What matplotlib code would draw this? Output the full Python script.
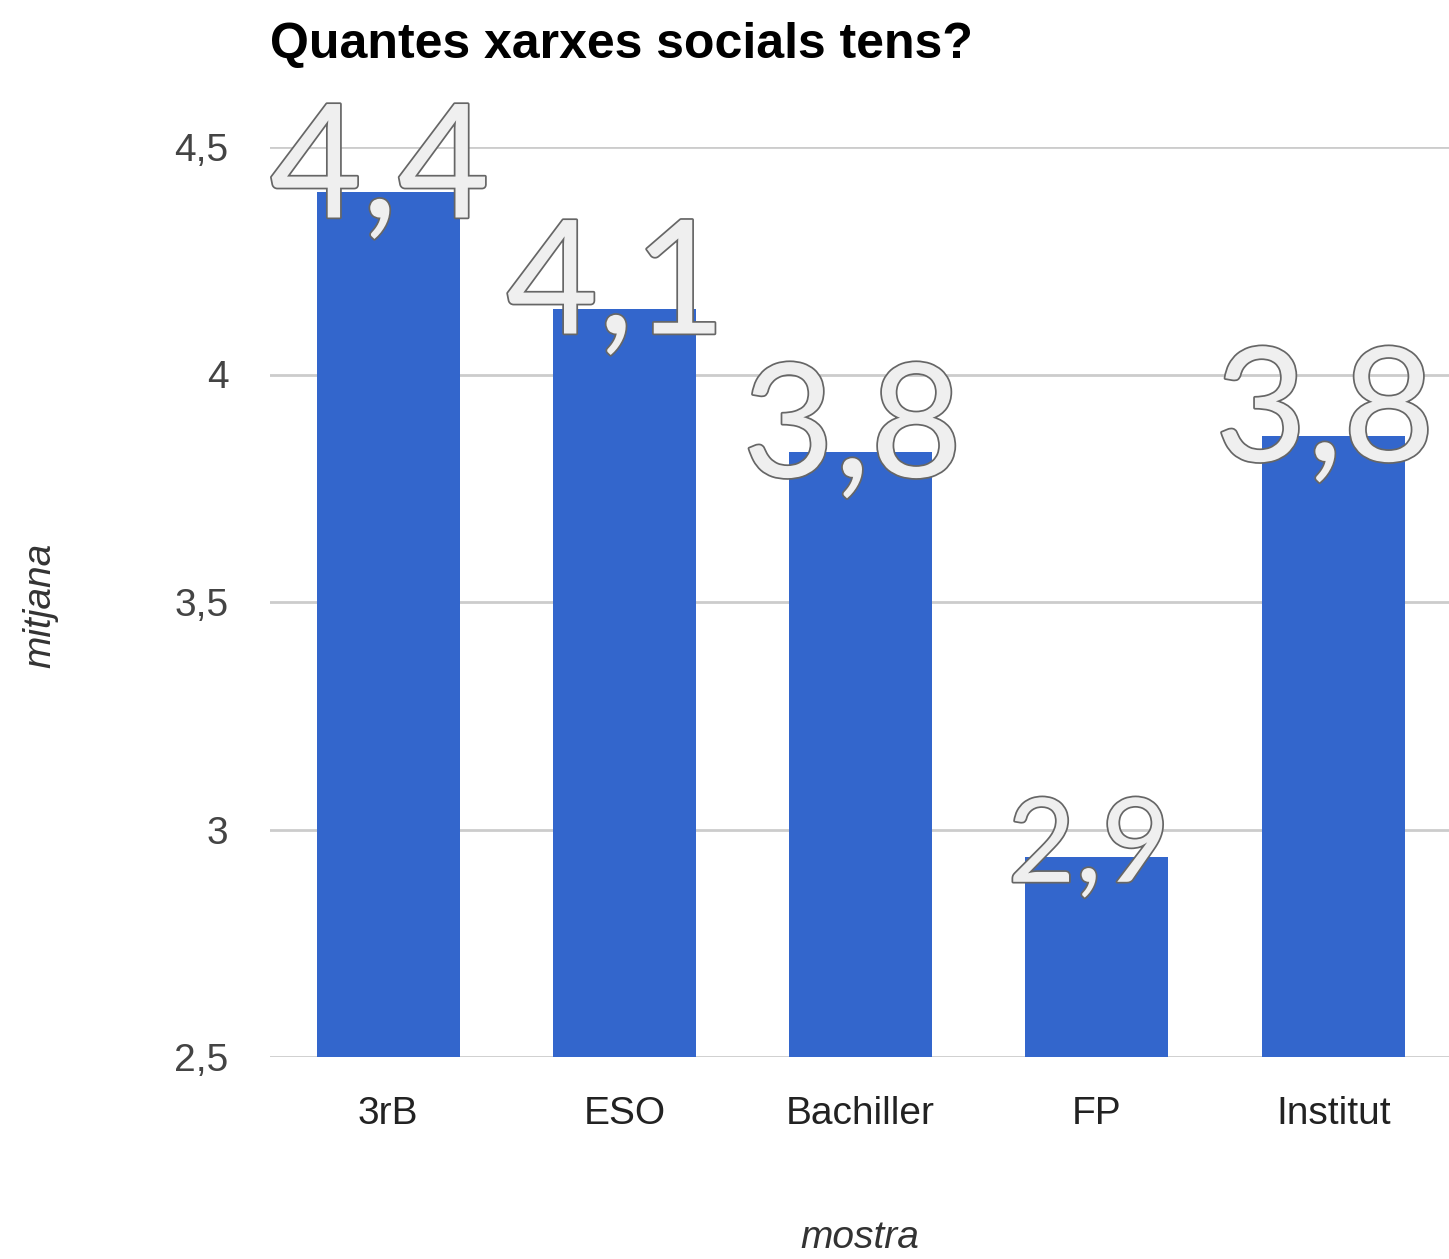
import matplotlib
matplotlib.use('Agg')

import matplotlib.pyplot as plt
import matplotlib.patheffects as pe

categories = ['3rB', 'ESO', 'Bachiller', 'FP', 'Institut']
values = [4.40, 4.145, 3.83, 2.94, 3.865]
value_labels = ['4,4', '4,1', '3,8', '2,9', '3,8']
yticks = [2.5, 3.0, 3.5, 4.0, 4.5]
ytick_labels = ['2,5', '3', '3,5', '4', '4,5']

narrow = ['Liberation Sans Narrow', 'Liberation Sans', 'DejaVu Sans']
label_sizes = [114, 114, 114, 84, 114]

fig = plt.figure(figsize=(14.49, 12.59), dpi=100)
ax = fig.add_axes([270 / 1449, 1 - 1057 / 1259, 1 - 270 / 1449, (1057 - 147) / 1259])

x = range(len(categories))
ax.bar(x, values, width=0.605, color='#3366cc', zorder=3)

ax.set_xlim(-0.5, 4.49)
ax.set_ylim(2.5, 4.5)
ax.set_yticks(yticks)
ax.set_yticklabels(ytick_labels, family=narrow, fontsize=28, color='#444444')
ax.set_xticks(list(x))
ax.set_xticklabels(categories, family=narrow, fontsize=28, color='#222222')
ax.tick_params(axis='y', length=0, pad=30)
ax.tick_params(axis='x', length=0, pad=28)
ax.yaxis.grid(True, color='#cccccc', linewidth=2, zorder=0)
ax.set_axisbelow(True)
for s in ax.spines.values():
    s.set_visible(False)

# big outlined value labels
for i, (v, lab) in enumerate(zip(values, value_labels)):
    ax.annotate(lab, (i, v), xytext=(-6, -18), textcoords='offset points',
                ha='center', va='baseline', fontsize=label_sizes[i],
                family=['Lato', 'DejaVu Sans'], color='#efefef', zorder=5,
                annotation_clip=False,
                path_effects=[pe.withStroke(linewidth=2.5, foreground='#666666')])

fig.text(270 / 1449, 1 - 58 / 1259, 'Quantes xarxes socials tens?', ha='left',
         va='baseline', fontsize=36, fontweight='bold', family=narrow, color='#000000')
fig.text(860 / 1449, 1 - 1238 / 1259, 'mostra', ha='center', va='center',
         fontsize=28, style='italic', family=narrow, color='#333333')
fig.text(40 / 1449, 1 - 605 / 1259, 'mitjana', ha='center', va='center', rotation=90,
         fontsize=28, style='italic', family=narrow, color='#333333')

plt.savefig('out.png', dpi=100)
